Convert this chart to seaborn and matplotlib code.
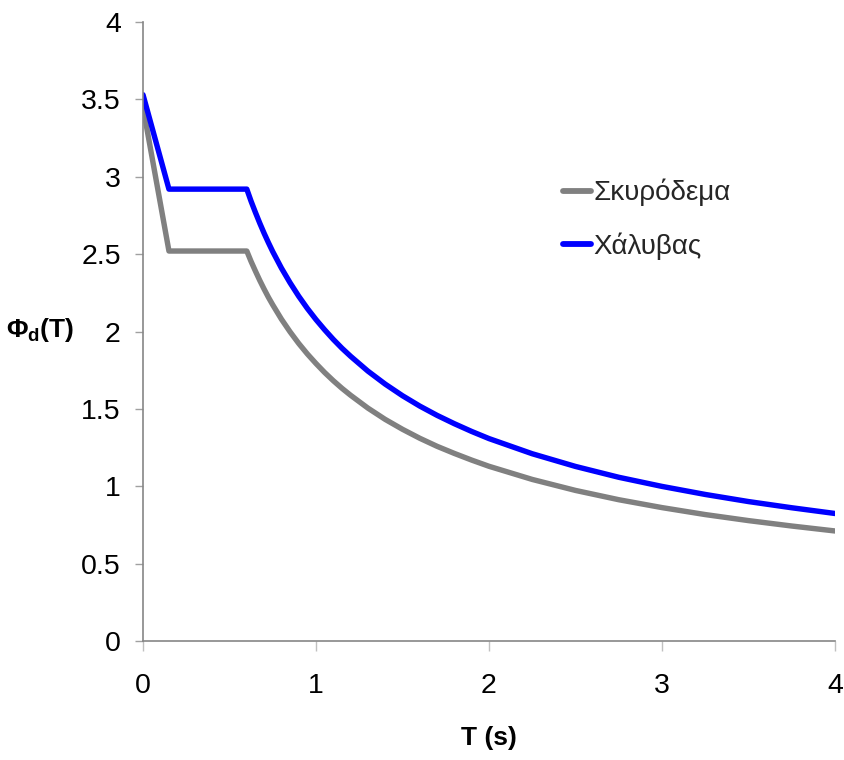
import matplotlib
matplotlib.use("Agg")
import matplotlib.pyplot as plt
import seaborn as sns
import pandas as pd

# ---- data ----
T = [0.0, 0.15, 0.6, 0.625, 0.65, 0.675, 0.7, 0.725, 0.75, 0.8, 0.85, 0.9, 0.95, 1.0,
     1.05, 1.1, 1.15, 1.2, 1.3, 1.4, 1.5, 1.6, 1.7, 1.8, 1.9, 2.0, 2.25, 2.5, 2.75,
     3.0, 3.25, 3.5, 3.75, 4.0]
concrete = [3.45, 2.52, 2.52, 2.452, 2.390, 2.330, 2.274, 2.221, 2.172, 2.080, 1.998, 1.923,
            1.855, 1.793, 1.735, 1.682, 1.633, 1.588, 1.505, 1.432, 1.368, 1.310, 1.258,
            1.212, 1.169, 1.129, 1.044, 0.973, 0.913, 0.862, 0.817, 0.778, 0.743, 0.711]
steel = [3.53, 2.92, 2.92, 2.841, 2.769, 2.700, 2.635, 2.574, 2.516, 2.410, 2.315, 2.228,
         2.149, 2.077, 2.011, 1.949, 1.892, 1.840, 1.744, 1.660, 1.585, 1.518, 1.458,
         1.404, 1.354, 1.308, 1.210, 1.128, 1.058, 0.999, 0.947, 0.901, 0.861, 0.824]
series_names = ["Σκυρόδεμα", "Χάλυβας"]
series_colors = ["#808080", "#0000ff"]
x_ticks = [0, 1, 2, 3, 4]
y_ticks = [0, 0.5, 1, 1.5, 2, 2.5, 3, 3.5, 4]
y_tick_labels = ["0", "0.5", "1", "1.5", "2", "2.5", "3", "3.5", "4"]
x_label = "T (s)"
y_label = "Φ$_{\\mathbf{d}}$(T)"

df = pd.DataFrame({
    "T": T * 2,
    "val": concrete + steel,
    "series": [series_names[0]] * len(T) + [series_names[1]] * len(T),
})

sns.set_theme(style="white")
fam = "Liberation Sans"
plt.rcParams["font.family"] = [fam, "DejaVu Sans"]
plt.rcParams["mathtext.fontset"] = "custom"
plt.rcParams["mathtext.bf"] = fam + ":bold"
plt.rcParams["mathtext.rm"] = fam

fig = plt.figure(figsize=(8.45, 7.6), dpi=100)
ax = fig.add_axes([143 / 845, 1 - 641 / 760, (835 - 143) / 845, (641 - 22) / 760])

sns.lineplot(data=df, x="T", y="val", hue="series", palette=series_colors,
             linewidth=3.9, sort=False, ax=ax, legend=True)

ax.set_xlim(0, 4)
ax.set_ylim(0, 4)
ax.set_xticks(x_ticks)
ax.set_xticklabels([str(t) for t in x_ticks])
ax.set_yticks(y_ticks)
ax.set_yticklabels(y_tick_labels)

for s in ["top", "right"]:
    ax.spines[s].set_visible(False)
for s in ["left", "bottom"]:
    ax.spines[s].set_color("#868686")
    ax.spines[s].set_linewidth(1.2)

ax.tick_params(axis="y", direction="out", length=6, width=1, color="#a0a0a0",
               pad=10, labelsize=20.5, labelcolor="black", left=True)
ax.tick_params(axis="x", direction="out", length=7, width=1, color="#c0c0c0",
               pad=16, labelsize=20.5, labelcolor="black", bottom=True)

ax.set_xlabel(x_label, fontsize=19, fontweight="bold", color="black")
ax.xaxis.set_label_coords(0.5, (641 - 738) / 619)
ax.xaxis.label.set_va("center")
ax.set_ylabel(y_label, fontsize=19, fontweight="bold", rotation=0, color="black")
ax.yaxis.set_label_coords((40 - 143) / 692, (641 - 330) / 619)
ax.yaxis.label.set_va("center")
ax.yaxis.label.set_ha("center")

leg = ax.legend(loc="upper left", bbox_to_anchor=((563 - 143) / 692, (641 - 179) / 619),
                frameon=False, fontsize=20, handlelength=1.0, handletextpad=0.1,
                borderpad=0, borderaxespad=0, labelspacing=0.92)
for h in leg.get_lines():
    h.set_linewidth(4.2)

fig.savefig("out.png", dpi=100)
